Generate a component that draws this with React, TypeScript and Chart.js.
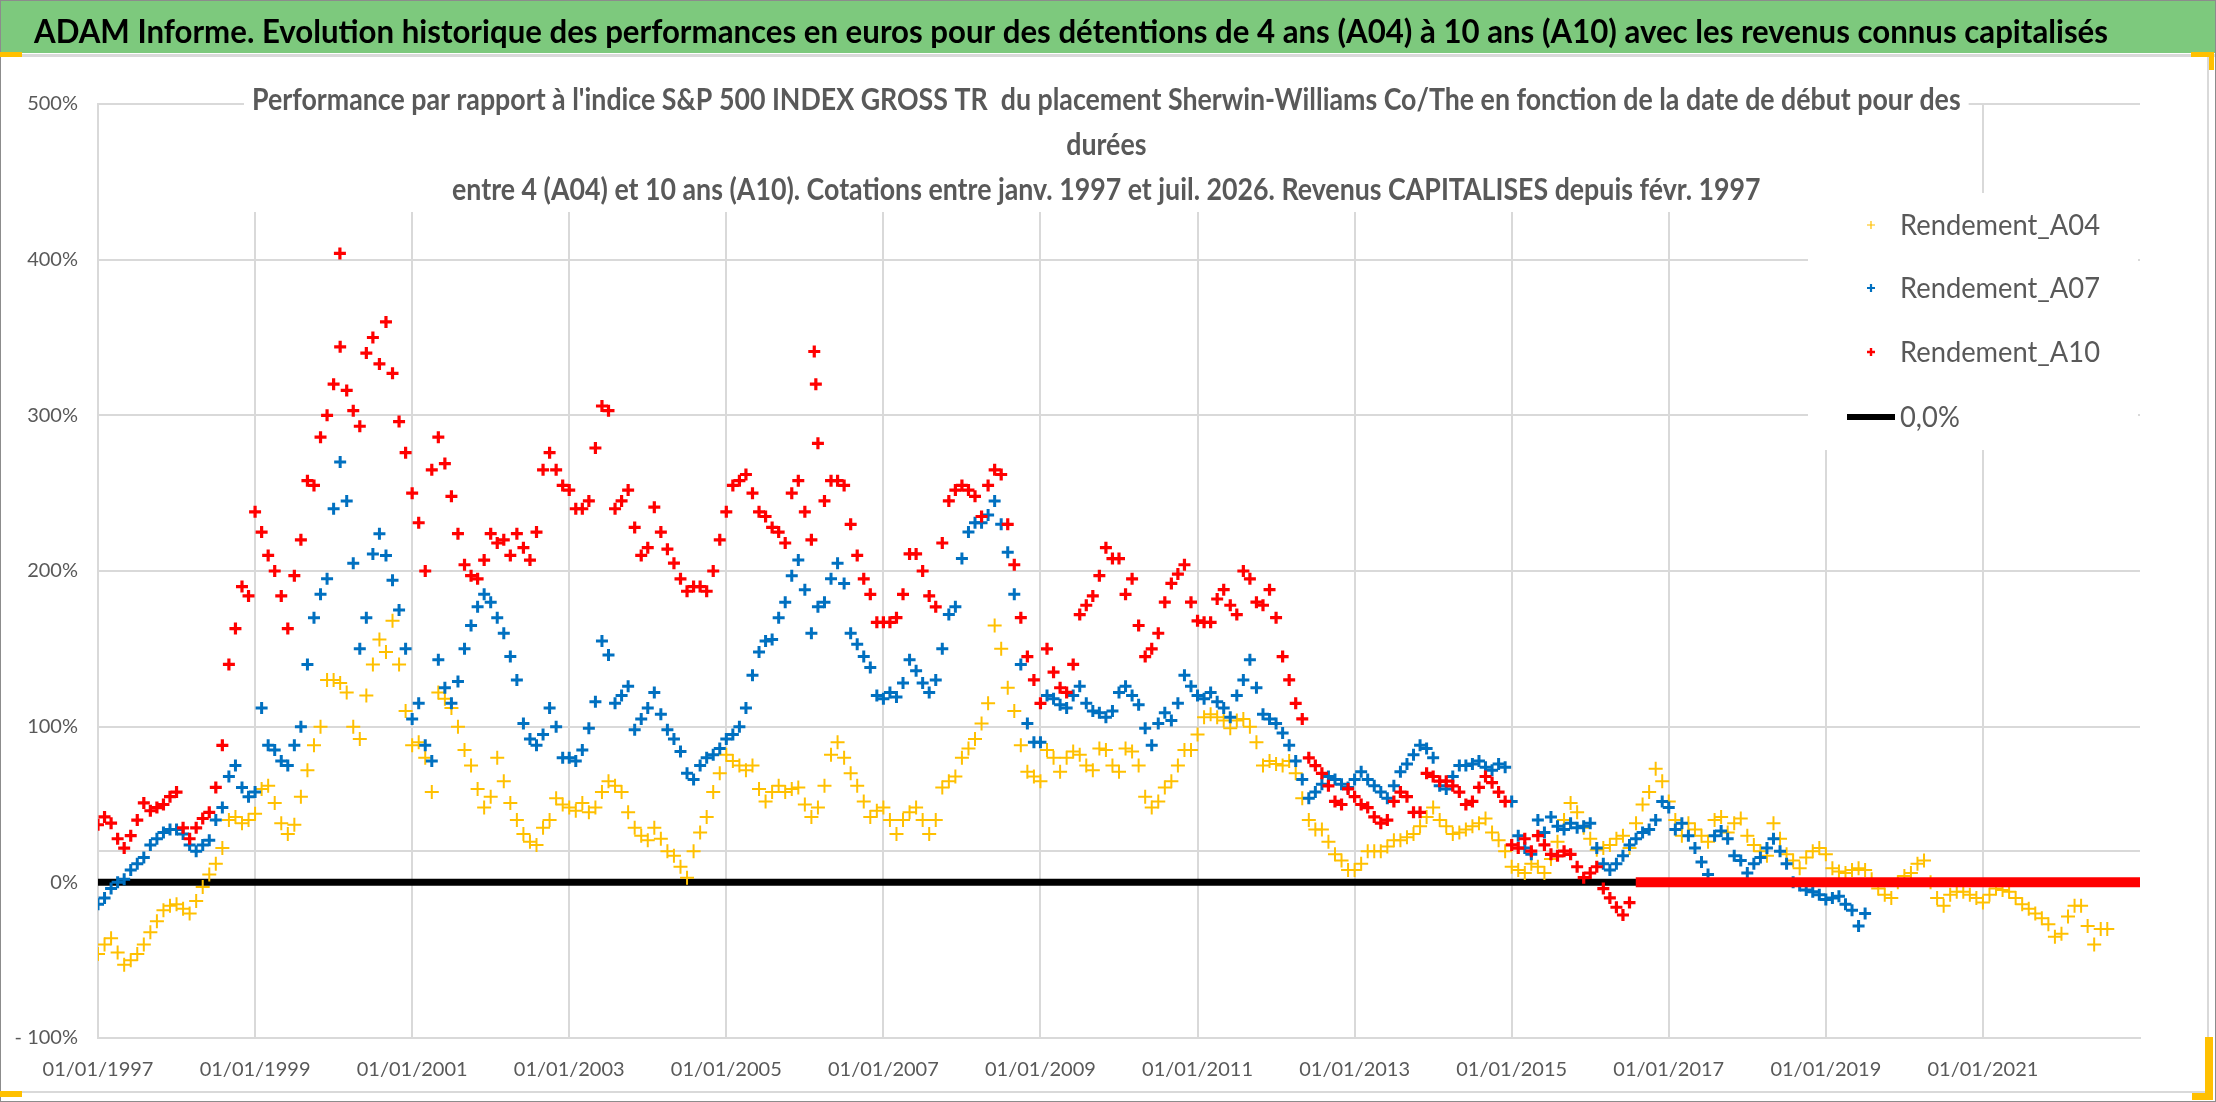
import React, { useEffect, useRef } from "react";
import { Chart, registerables } from "chart.js";

Chart.register(...registerables);

// ---------- DATA (monthly start dates from January 1997, values in %) ----------
const START_YEAR = 1997;

const RENDEMENT_A04: number[] = [
  -46, -40, -36, -45, -53, -50, -46, -40, -32, -25, -18, -15,
  -14, -17, -20, -12, -3, 5, 12, 22, 40, 42, 38, 40,
  44, 60, 62, 51, 38, 31, 37, 55, 72, 88, 100, 130,
  130, 128, 122, 100, 92, 120, 140, 156, 148, 168, 140, 110,
  88, 90, 80, 58, 122, 118, 112, 100, 85, 75, 60, 48,
  55, 80, 65, 51, 40, 31, 26, 24, 35, 40, 54, 50,
  48, 46, 51, 45, 48, 58, 65, 62, 58, 45, 35, 30,
  27, 35, 28, 20, 17, 10, 3, 20, 32, 42, 58, 70,
  82, 78, 75, 72, 75, 60, 52, 58, 62, 58, 60, 61,
  50, 42, 48, 62, 82, 90, 80, 70, 62, 52, 42, 46,
  48, 40, 31, 40, 45, 48, 40, 31, 40, 61, 65, 68,
  80, 86, 92, 102, 115, 165, 150, 125, 110, 88, 71, 68,
  65, 85, 80, 71, 80, 84, 82, 75, 72, 86, 85, 75,
  71, 86, 84, 75, 55, 48, 52, 61, 65, 75, 85, 85,
  95, 106, 108, 106, 104, 99, 104, 105, 100, 90, 75, 78,
  76, 75, 78, 70, 54, 40, 34, 34, 26, 18, 14, 8,
  8, 12, 20, 20, 20, 23, 27, 27, 29, 31, 36, 42,
  48, 40, 36, 31, 32, 34, 36, 38, 41, 32, 27, 20,
  10, 8, 6, 12, 10, 6, 15, 26, 40, 51, 45, 35,
  28, 21, 22, 24, 28, 30, 22, 38, 50, 58, 73, 65,
  52, 40, 30, 38, 34, 30, 26, 40, 42, 32, 38, 41,
  30, 24, 20, 17, 38, 28, 18, 14, 9, 16, 20, 22,
  18, 9, 7, 6, 8, 9, 8, 2, -4, -8, -10, 0,
  4, 6, 12, 14, 0, -10, -15, -8, -6, -6, -8, -10,
  -13, -8, -4, -5, -6, -10, -14, -17, -20, -23, -27, -35,
  -33, -22, -15, -15, -28, -40, -30, -30,
];

const RENDEMENT_A07: number[] = [
  -14, -10, -4, 0, 2, 8, 12, 16, 24, 28, 32, 34,
  34, 31, 24, 20, 24, 27, 40, 48, 68, 75, 61, 55,
  58, 112, 88, 85, 78, 75, 88, 100, 140, 170, 185, 195,
  240, 270, 245, 205, 150, 170, 211, 224, 210, 194, 175, 150,
  105, 115, 88, 78, 143, 125, 115, 129, 150, 165, 177, 185,
  180, 170, 160, 145, 130, 102, 92, 88, 95, 112, 100, 80,
  80, 78, 85, 99, 116, 155, 146, 115, 120, 126, 98, 105,
  112, 122, 108, 98, 92, 84, 70, 66, 75, 80, 82, 86,
  92, 95, 100, 112, 133, 148, 155, 156, 170, 180, 197, 207,
  188, 160, 177, 180, 195, 205, 192, 160, 153, 145, 138, 120,
  118, 122, 119, 128, 143, 136, 128, 122, 130, 150, 172, 177,
  208, 225, 231, 231, 236, 245, 230, 212, 185, 140, 102, 90,
  90, 120, 118, 114, 112, 120, 126, 115, 110, 109, 106, 110,
  122, 126, 120, 114, 99, 88, 102, 109, 104, 115, 133, 126,
  120, 118, 122, 116, 112, 106, 120, 130, 143, 125, 108, 105,
  102, 96, 88, 78, 66, 54, 58, 63, 68, 66, 63, 61,
  66, 71, 66, 62, 58, 54, 62, 71, 76, 82, 88, 86,
  80, 62, 60, 68, 75, 75, 76, 78, 74, 72, 76, 74,
  52, 30, 22, 18, 40, 32, 42, 36, 34, 38, 35, 36,
  38, 22, 12, 8, 12, 17, 24, 28, 32, 34, 40, 52,
  48, 34, 38, 30, 22, 13, 5, 30, 33, 28, 17, 14,
  6, 12, 16, 22, 28, 20, 12, 0, -2, -5, -6, -8,
  -11, -10, -9, -14, -18, -28, -20,
];

const RENDEMENT_A10: number[] = [
  37, 42, 38, 28, 22, 30, 40, 51, 46, 48, 50, 55,
  58, 35, 28, 35, 41, 45, 61, 88, 140, 163, 190, 184,
  238, 225, 210, 200, 184, 163, 197, 220, 258, 255, 286, 300,
  320, 344, 316, 303, 293, 340, 350, 333, 360, 327, 296, 276,
  250, 231, 200, 265, 286, 269, 248, 224, 204, 197, 195, 207,
  224, 218, 220, 210, 224, 215, 207, 225, 265, 276, 265, 255,
  252, 240, 240, 245, 279, 306, 303, 240, 245, 252, 228, 210,
  215, 241, 225, 214, 205, 195, 187, 190, 190, 187, 200, 220,
  238, 255, 258, 262, 250, 238, 235, 228, 225, 218, 250, 258,
  238, 220, 282, 245, 258, 258, 255, 230, 210, 195, 185, 167,
  167, 167, 170, 185, 211, 211, 200, 184, 177, 218, 245, 252,
  255, 252, 248, 235, 255, 265, 262, 230, 204, 170, 145, 130,
  115, 150, 135, 125, 122, 140, 172, 178, 184, 197, 215, 208,
  208, 185, 195, 165, 145, 150, 160, 180, 192, 198, 204, 180,
  168, 167, 167, 182, 188, 178, 172, 200, 195, 180, 178, 188,
  170, 145, 130, 115, 105, 80, 75, 70, 62, 52, 50, 60,
  55, 50, 48, 42, 38, 40, 52, 58, 55, 45, 45, 70,
  68, 65, 65, 62, 58, 50, 52, 61, 68, 64, 58, 52,
  24, 22, 28, 20, 30, 24, 18, 17, 20, 18, 10, 3,
  6, 10, -4, -10, -16, -21, -13,
];

// isolated A10 points (decimal year, %)
const A10_OUTLIER_DATES: number[] = [2000.08, 2006.12, 2006.14];
const A10_OUTLIER_VALUES: number[] = [404, 341, 320];

// A10 after its last computable start date is reported as 0 %
const A10_ZERO_DATES: number[] = [2016.58, 2023];
const ZERO_LINE_DATES: number[] = [1997, 2023];

const X_TICK_YEARS: number[] = [1997, 1999, 2001, 2003, 2005, 2007, 2009, 2011, 2013, 2015, 2017, 2019, 2021];
const X_TICK_LABELS: string[] = [
  "01/01/1997", "01/01/1999", "01/01/2001", "01/01/2003", "01/01/2005", "01/01/2007",
  "01/01/2009", "01/01/2011", "01/01/2013", "01/01/2015", "01/01/2017", "01/01/2019", "01/01/2021",
];
const Y_TICK_VALUES: number[] = [-100, 0, 100, 200, 300, 400, 500];
const Y_TICK_LABELS: string[] = ["- 100%", "0%", "100%", "200%", "300%", "400%", "500%"];
const Y_EXTRA_GRID: number[] = [20];

const LEGEND_LABELS: string[] = ["Rendement_A04", "Rendement_A07", "Rendement_A10", "0,0%"];

const BANNER_TEXT =
  "ADAM Informe. Evolution historique des performances en euros pour des détentions de 4 ans (A04) à 10 ans (A10) avec les revenus connus capitalisés";
const TITLE_LINES: string[] = [
  "Performance par rapport à l'indice S&P 500 INDEX GROSS TR  du placement Sherwin-Williams Co/The en fonction de la date de début pour des",
  "durées",
  "entre 4 (A04) et 10 ans (A10). Cotations entre janv. 1997 et juil. 2026. Revenus CAPITALISES depuis févr. 1997",
];

// ---------- STYLE ----------
const W = 2216;
const H = 1102;
const YELLOW = "#FFC000";
const BLUE = "#0070C0";
const RED = "#FF0000";
const GRID = "#d9d9d9";
const TEXT = "#595959";
const FONT = "Lato";

const toPoints = (vals: number[]) => vals.map((v, i) => ({ x: START_YEAR + i / 12, y: v }));

function drawScaledText(
  ctx: CanvasRenderingContext2D,
  text: string,
  x: number,
  y: number,
  font: string,
  color: string,
  scaleX: number,
  align: "left" | "center"
) {
  ctx.save();
  ctx.font = font;
  ctx.fillStyle = color;
  ctx.textAlign = "left";
  ctx.textBaseline = "alphabetic";
  const w = ctx.measureText(text).width * scaleX;
  const left = align === "center" ? x - w / 2 : x;
  ctx.translate(left, y);
  ctx.scale(scaleX, 1);
  ctx.fillText(text, 0, 0);
  ctx.restore();
}

function drawCross(ctx: CanvasRenderingContext2D, x: number, y: number, r: number, color: string, lw: number) {
  ctx.save();
  ctx.strokeStyle = color;
  ctx.lineWidth = lw;
  ctx.beginPath();
  ctx.moveTo(x - r, y);
  ctx.lineTo(x + r, y);
  ctx.moveTo(x, y - r);
  ctx.lineTo(x, y + r);
  ctx.stroke();
  ctx.restore();
}

const decorPlugin = {
  id: "decor",
  afterDraw(chart: any) {
    const ctx: CanvasRenderingContext2D = chart.ctx;
    ctx.save();

    // banner
    ctx.fillStyle = "#7DC97D";
    ctx.fillRect(0, 1, W, 52);
    ctx.fillStyle = "#8c8c8c";
    ctx.fillRect(0, 0, W, 1);
    ctx.fillStyle = GRID;
    ctx.fillRect(0, 54, W, 3);
    const bannerFont = `bold 33px ${FONT}`;
    ctx.font = bannerFont;
    const bw = ctx.measureText(BANNER_TEXT).width;
    drawScaledText(ctx, BANNER_TEXT, 34, 43, bannerFont, "#000000", (2108 - 34) / bw, "left");

    // chart title with white background
    const titleFont = `bold 30px ${FONT}`;
    ctx.font = titleFont;
    const prefix = "Performance par rapport à l'indice S&P 500 INDEX GROSS TR  du placement Sherwi";
    const s = (1250 - 252) / ctx.measureText(prefix).width;
    const l1w = ctx.measureText(TITLE_LINES[0]).width * s;
    const cx = 252 + l1w / 2;
    ctx.fillStyle = "#ffffff";
    ctx.fillRect(244, 76, l1w + 16, 136);
    drawScaledText(ctx, TITLE_LINES[0], 252, 110, titleFont, TEXT, s, "left");
    drawScaledText(ctx, TITLE_LINES[1], cx, 155, titleFont, TEXT, s, "center");
    drawScaledText(ctx, TITLE_LINES[2], cx, 200, titleFont, TEXT, s, "center");

    // legend
    ctx.fillStyle = "#ffffff";
    ctx.fillRect(1808, 193, 330, 257);
    const legFont = `28px ${FONT}`;
    ctx.font = legFont;
    const ls = 200 / ctx.measureText(LEGEND_LABELS[0]).width;
    const rows = [225, 288, 352, 417];
    drawCross(ctx, 1871, rows[0], 4, YELLOW, 1.2);
    drawCross(ctx, 1871, rows[1], 4, BLUE, 2.2);
    drawCross(ctx, 1871, rows[2], 4, RED, 2.4);
    ctx.fillStyle = "#000000";
    ctx.fillRect(1847, rows[3] - 3, 48, 6);
    LEGEND_LABELS.forEach((t, i) => {
      drawScaledText(ctx, t, 1900, rows[i] + 10, legFont, TEXT, ls, "left");
    });

    // frame & selection marks
    ctx.fillStyle = GRID;
    ctx.fillRect(2207, 57, 2, 1035);
    ctx.fillRect(0, 1091, 2207, 2);
    ctx.fillStyle = "#8c8c8c";
    ctx.fillRect(W - 1, 0, 1, H);
    ctx.fillRect(0, H - 1, W, 1);
    ctx.fillRect(0, 0, 1, H);
    ctx.fillStyle = YELLOW;
    ctx.fillRect(0, 52, 22, 5);
    ctx.fillRect(2191, 52, 23, 5);
    ctx.fillRect(2209, 52, 5, 18);
    ctx.fillRect(0, 1091, 22, 6);
    ctx.fillRect(2205, 1037, 8, 63);
    ctx.fillRect(2192, 1093, 21, 7);
    ctx.restore();
  },
};

export default function App() {
  const canvasRef = useRef<HTMLCanvasElement | null>(null);

  useEffect(() => {
    document.body.style.margin = "0";
    let chart: Chart | null = null;
    let cancelled = false;

    const build = () => {
      if (cancelled || !canvasRef.current) return;
      const a10Points = [
        ...toPoints(RENDEMENT_A10),
        ...A10_OUTLIER_DATES.map((d, i) => ({ x: d, y: A10_OUTLIER_VALUES[i] })),
      ];
      chart = new Chart(canvasRef.current, {
        type: "scatter",
        data: {
          datasets: [
            {
              label: "Rendement_A10",
              data: a10Points,
              pointStyle: "cross",
              pointRadius: 6,
              pointBorderWidth: 3.2,
              borderColor: RED,
              backgroundColor: RED,
              order: 1,
            },
            {
              label: "A10 zero",
              data: A10_ZERO_DATES.map((d) => ({ x: d, y: 0 })),
              showLine: true,
              borderColor: RED,
              borderWidth: 10,
              pointRadius: 0,
              order: 2,
            },
            {
              label: "Rendement_A07",
              data: toPoints(RENDEMENT_A07),
              pointStyle: "cross",
              pointRadius: 6,
              pointBorderWidth: 3,
              borderColor: BLUE,
              backgroundColor: BLUE,
              order: 3,
            },
            {
              label: "Rendement_A04",
              data: toPoints(RENDEMENT_A04),
              pointStyle: "cross",
              pointRadius: 7,
              pointBorderWidth: 2,
              borderColor: YELLOW,
              backgroundColor: YELLOW,
              order: 4,
            },
            {
              label: "0,0%",
              data: ZERO_LINE_DATES.map((d) => ({ x: d, y: 0 })),
              showLine: true,
              borderColor: "#000000",
              borderWidth: 7,
              pointRadius: 0,
              order: 5,
            },
          ],
        },
        options: {
          animation: false,
          responsive: false,
          devicePixelRatio: 1,
          layout: { padding: { left: 0, right: W - 2140, top: 104, bottom: 0 } },
          plugins: {
            legend: { display: false },
            tooltip: { enabled: false },
            title: { display: false },
          },
          scales: {
            x: {
              type: "linear",
              min: 1997,
              max: 2023,
              afterBuildTicks: (axis: any) => {
                axis.ticks = X_TICK_YEARS.map((v) => ({ value: v }));
              },
              afterFit: (axis: any) => {
                axis.height = H - 1038;
              },
              ticks: {
                autoSkip: false,
                maxRotation: 0,
                padding: 20,
                color: TEXT,
                font: { family: FONT, size: 20 },
                callback: (v: any) => {
                  const i = X_TICK_YEARS.indexOf(Number(v));
                  return i >= 0 ? X_TICK_LABELS[i] : "";
                },
              },
              grid: { color: GRID, lineWidth: 2, drawTicks: false },
              border: { color: GRID, width: 2 },
            },
            y: {
              type: "linear",
              min: -100,
              max: 500,
              afterBuildTicks: (axis: any) => {
                axis.ticks = [...Y_TICK_VALUES, ...Y_EXTRA_GRID]
                  .sort((a, b) => a - b)
                  .map((v) => ({ value: v }));
              },
              afterFit: (axis: any) => {
                axis.width = 98;
              },
              ticks: {
                padding: 20,
                color: TEXT,
                font: { family: FONT, size: 20 },
                callback: (v: any) => {
                  const i = Y_TICK_VALUES.indexOf(Number(v));
                  return i >= 0 ? Y_TICK_LABELS[i] : "";
                },
              },
              grid: { color: GRID, lineWidth: 2, drawTicks: false },
              border: { color: GRID, width: 2 },
            },
          },
        },
        plugins: [decorPlugin],
      } as any);
    };

    const fonts = (document as any).fonts;
    if (fonts && fonts.load) {
      Promise.all([
        fonts.load(`20px ${FONT}`),
        fonts.load(`bold 30px ${FONT}`),
      ])
        .catch(() => undefined)
        .then(build);
    } else {
      build();
    }

    return () => {
      cancelled = true;
      if (chart) chart.destroy();
    };
  }, []);

  return (
    <div style={{ position: "relative", width: W, height: H, background: "#ffffff" }}>
      <canvas ref={canvasRef} width={W} height={H} style={{ display: "block", width: W, height: H }} />
    </div>
  );
}
